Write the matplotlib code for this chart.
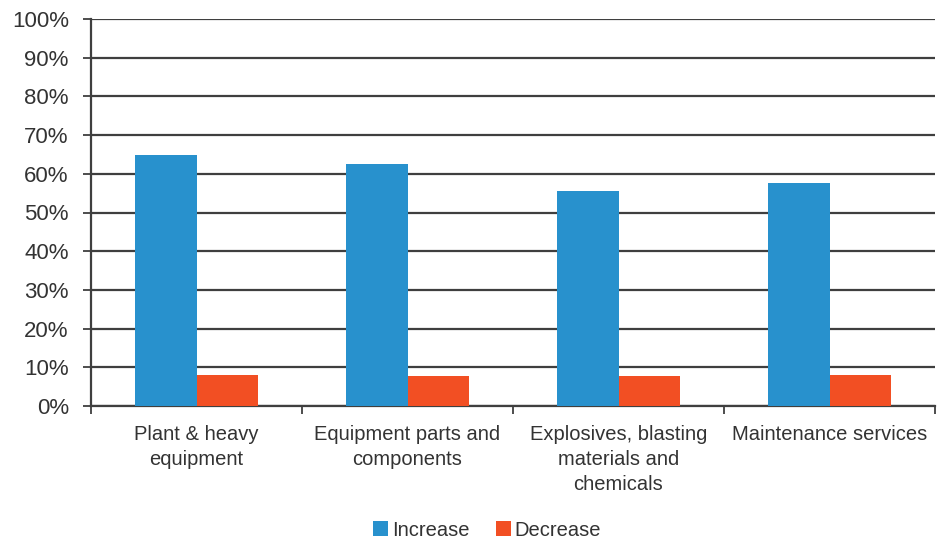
import matplotlib
matplotlib.use("Agg")
import matplotlib.pyplot as plt
import numpy as np
from matplotlib.ticker import FixedLocator, PercentFormatter

categories = ["Plant & heavy\nequipment", "Equipment parts and\ncomponents",
              "Explosives, blasting\nmaterials and\nchemicals", "Maintenance services"]
increase = [64.8, 62.5, 55.5, 57.6]
decrease = [8.1, 7.8, 7.8, 8.1]
series_names = ["Increase", "Decrease"]
yticks = [0, 10, 20, 30, 40, 50, 60, 70, 80, 90, 100]

plt.rcParams['font.family'] = ['Liberation Sans', 'DejaVu Sans']
text_color = '#333333'
grid_color = '#3f3f3f'

fig = plt.figure(figsize=(9.43, 5.42), dpi=100)
ax = fig.add_axes([91/943, 1-406/542, (935-91)/943, (406-19)/542])

x = np.arange(len(categories))
w = 0.29
ax.bar(x - w/2, increase, w, color='#2891CD', label=series_names[0], zorder=3)
ax.bar(x + w/2, decrease, w, color='#F24F23', label=series_names[1], zorder=3)

ax.set_xlim(-0.5, len(categories) - 0.5)
ax.set_ylim(0, 100)
ax.set_yticks(yticks)
ax.yaxis.set_major_formatter(PercentFormatter(decimals=0))
ax.yaxis.grid(True, color=grid_color, linewidth=1.6, zorder=0)
ax.set_axisbelow(True)

ax.set_xticks(x)
ax.set_xticklabels(categories, fontsize=14.5, color=text_color, linespacing=1.38)
ax.tick_params(axis='x', which='major', length=0, pad=14)
ax.xaxis.set_minor_locator(FixedLocator(np.arange(-0.5, len(categories), 1.0)))
ax.tick_params(axis='x', which='minor', length=6, width=1.3, color=grid_color, direction='out')
ax.tick_params(axis='y', length=6, width=1.3, color=grid_color, labelsize=16,
               labelcolor=text_color, pad=10)

for s in ['top', 'right']:
    ax.spines[s].set_visible(False)
for s in ['left', 'bottom']:
    ax.spines[s].set_color(grid_color)
    ax.spines[s].set_linewidth(1.6)

leg = fig.legend(loc='center', bbox_to_anchor=(487/943, 1-530/542), ncol=2, frameon=False,
                 fontsize=14.5, handlelength=0.75, handleheight=0.75, handletextpad=0.2,
                 columnspacing=1.3)
for t in leg.get_texts():
    t.set_color(text_color)

fig.savefig("out.png", dpi=100)
